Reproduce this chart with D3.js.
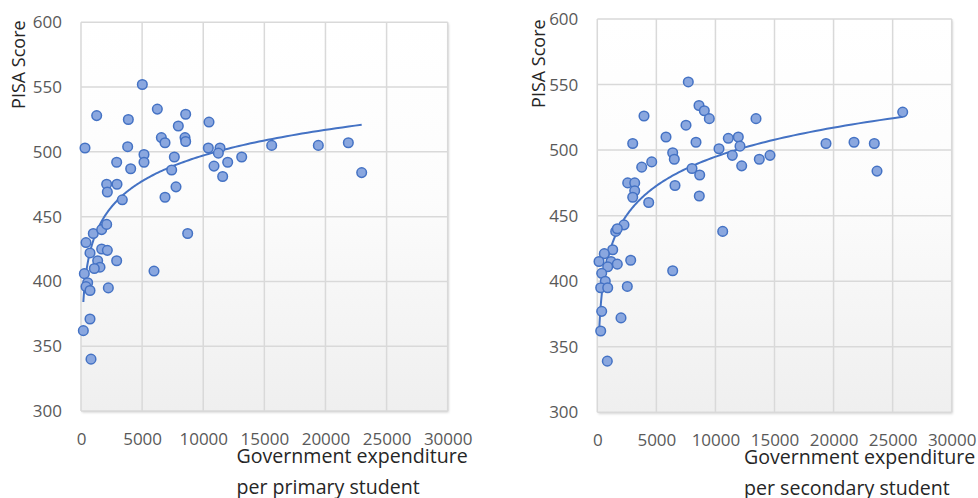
<!DOCTYPE html>
<html>
<head>
<meta charset="utf-8">
<script src="https://cdn.jsdelivr.net/npm/d3@7"></script>
<style>
  html, body { margin: 0; padding: 0; background: #ffffff; }
  svg { display: block; font-family: "Open Sans", "Noto Sans", sans-serif; }
</style>
</head>
<body>
<svg id="chart" width="978" height="498"></svg>
<script>
// Expenditure per primary student vs PISA score
const primaryX = [327,1283,5017,3872,6245,8563,10472,7961,3818,5154,
  5154,2918,4064,6573,6873,8508,8563,7636,7418,7772,
  6873,2100,2945,2155,3380,10417,11372,11236,10881,12000,
  11590,13147,15600,19415,21870,22963,
  409,1006,1691,2100,736,1691,2155,1363,2918,1554,
  1090,273,545,409,736,2236,736,191,818,5972,
  8727];
const primaryY = [503,528,552,525,533,529,523,520,504,498,
  492,492,487,511,507,511,508,496,486,473,
  465,475,475,469,463,503,503,499,489,492,
  481,496,505,505,507,484,
  430,437,440,444,422,425,424,416,416,411,
  410,406,399,396,393,395,371,362,340,408,
  437];

// Expenditure per secondary student vs PISA score
const secondaryX = [7703,3953,8609,9058,9481,13434,7508,2997,5815,8355,
  6382,6518,10302,11089,11936,12080,11428,12223,13713,4605,
  3758,8016,8668,2573,3166,3166,2997,6577,8634,4351,
  14619,19359,21730,23448,23677,25852,
  10615,6382,1557,2260,1693,1304,593,144,1160,2827,
  1693,880,372,677,288,880,2540,372,2006,288,
  847];
const secondaryY = [552,526,534,530,524,524,519,505,510,506,
  498,493,501,509,510,503,496,488,493,491,
  487,486,481,475,475,469,464,473,465,460,
  496,505,506,505,484,529,
  438,408,438,443,440,424,421,415,415,416,
  413,411,406,400,395,395,396,377,372,362,
  339];

const xTicks = [0,5000,10000,15000,20000,25000,30000];
const yTicks = [300,350,400,450,500,550,600];
const yTitle = "PISA Score";
const primaryTitle = ["Government expenditure", "per primary student"];
const secondaryTitle = ["Government expenditure", "per secondary student"];

const svg = d3.select("#chart");
const defs = svg.append("defs");

const grad = defs.append("linearGradient")
  .attr("id", "plotBg").attr("x1", 0).attr("y1", 0).attr("x2", 0).attr("y2", 1);
grad.append("stop").attr("offset", "0%").attr("stop-color", "#ffffff");
grad.append("stop").attr("offset", "45%").attr("stop-color", "#fcfcfc");
grad.append("stop").attr("offset", "100%").attr("stop-color", "#efefef");

const shadow = defs.append("filter").attr("id", "plotShadow")
  .attr("x", "-5%").attr("y", "-5%").attr("width", "110%").attr("height", "110%");
shadow.append("feDropShadow").attr("dx", 1).attr("dy", 1.5)
  .attr("stdDeviation", 1).attr("flood-color", "#000").attr("flood-opacity", 0.18);

// Least-squares fit of y = a*ln(x) + b
function logFit(xs, ys) {
  const n = xs.length;
  const lx = xs.map(Math.log);
  const mx = d3.mean(lx), my = d3.mean(ys);
  let sxy = 0, sxx = 0;
  for (let i = 0; i < n; i++) {
    sxy += (lx[i] - mx) * (ys[i] - my);
    sxx += (lx[i] - mx) * (lx[i] - mx);
  }
  const a = sxy / sxx;
  return { a, b: my - a * mx };
}

function drawPanel(opts) {
  const { left, top, right, bottom, xs, ys, title, yTitleX, titleX } = opts;
  const g = svg.append("g");

  const x = d3.scaleLinear().domain([0, 30000]).range([left, right]);
  const y = d3.scaleLinear().domain([300, 600]).range([bottom, top]);

  // Plot area
  g.append("rect")
    .attr("x", left).attr("y", top)
    .attr("width", right - left).attr("height", bottom - top)
    .attr("fill", "url(#plotBg)")
    .attr("filter", "url(#plotShadow)");

  // Gridlines
  g.append("g").selectAll("line").data(xTicks).join("line")
    .attr("x1", d => x(d)).attr("x2", d => x(d))
    .attr("y1", top).attr("y2", bottom)
    .attr("stroke", "#d9d9d9").attr("stroke-width", 1.5);
  g.append("g").selectAll("line").data(yTicks).join("line")
    .attr("x1", left).attr("x2", right)
    .attr("y1", d => y(d)).attr("y2", d => y(d))
    .attr("stroke", "#d9d9d9").attr("stroke-width", 1.5);

  // Axes (labels only)
  const yAxis = g.append("g")
    .attr("transform", `translate(${left - 19},0)`)
    .call(d3.axisLeft(y).tickValues(yTicks).tickSize(0).tickPadding(0));
  const xAxis = g.append("g")
    .attr("transform", `translate(0,${bottom + 22})`)
    .call(d3.axisBottom(x).tickValues(xTicks).tickSize(0).tickPadding(0).tickFormat(d3.format("d")));
  [yAxis, xAxis].forEach(a => {
    a.select(".domain").remove();
    a.selectAll("text")
      .attr("fill", "#595959")
      .style("font-size", "17px")
      .style("font-family", "'Open Sans', sans-serif");
  });
  xAxis.selectAll("text").attr("dy", "0.71em");

  // Trendline
  const fit = logFit(xs, ys);
  const [xmin, xmax] = d3.extent(xs);
  const samples = d3.range(0, 201).map(i => xmin * Math.pow(xmax / xmin, i / 200));
  g.append("path")
    .datum(samples)
    .attr("fill", "none")
    .attr("stroke", "#4472c4")
    .attr("stroke-width", 2)
    .attr("d", d3.line().x(d => x(d)).y(d => y(fit.a * Math.log(d) + fit.b)));

  // Points
  g.append("g").selectAll("circle").data(xs.map((v, i) => [v, ys[i]])).join("circle")
    .attr("cx", d => x(d[0])).attr("cy", d => y(d[1]))
    .attr("r", 4.8)
    .attr("fill", "#8aa7df")
    .attr("stroke", "#4472c4")
    .attr("stroke-width", 1.5);

  // Y title
  g.append("text")
    .attr("transform", `translate(${yTitleX},${(top + bottom) / 2 - 152}) rotate(-90)`)
    .attr("text-anchor", "middle")
    .attr("fill", "#262626")
    .style("font-size", "18px")
    .text(yTitle);

  // X title
  const t = g.append("text")
    .attr("fill", "#262626")
    .style("font-size", "19.6px");
  title.forEach((line, i) => {
    t.append("tspan").attr("x", titleX).attr("y", bottom + 52 + i * 31).text(line);
  });
}

drawPanel({ left: 81, top: 22.3, right: 447.7, bottom: 411,
  xs: primaryX, ys: primaryY, title: primaryTitle, yTitleX: 25, titleX: 236.5 });
drawPanel({ left: 597.3, top: 19, right: 951.7, bottom: 412.3,
  xs: secondaryX, ys: secondaryY, title: secondaryTitle, yTitleX: 545, titleX: 744 });
</script>
</body>
</html>
